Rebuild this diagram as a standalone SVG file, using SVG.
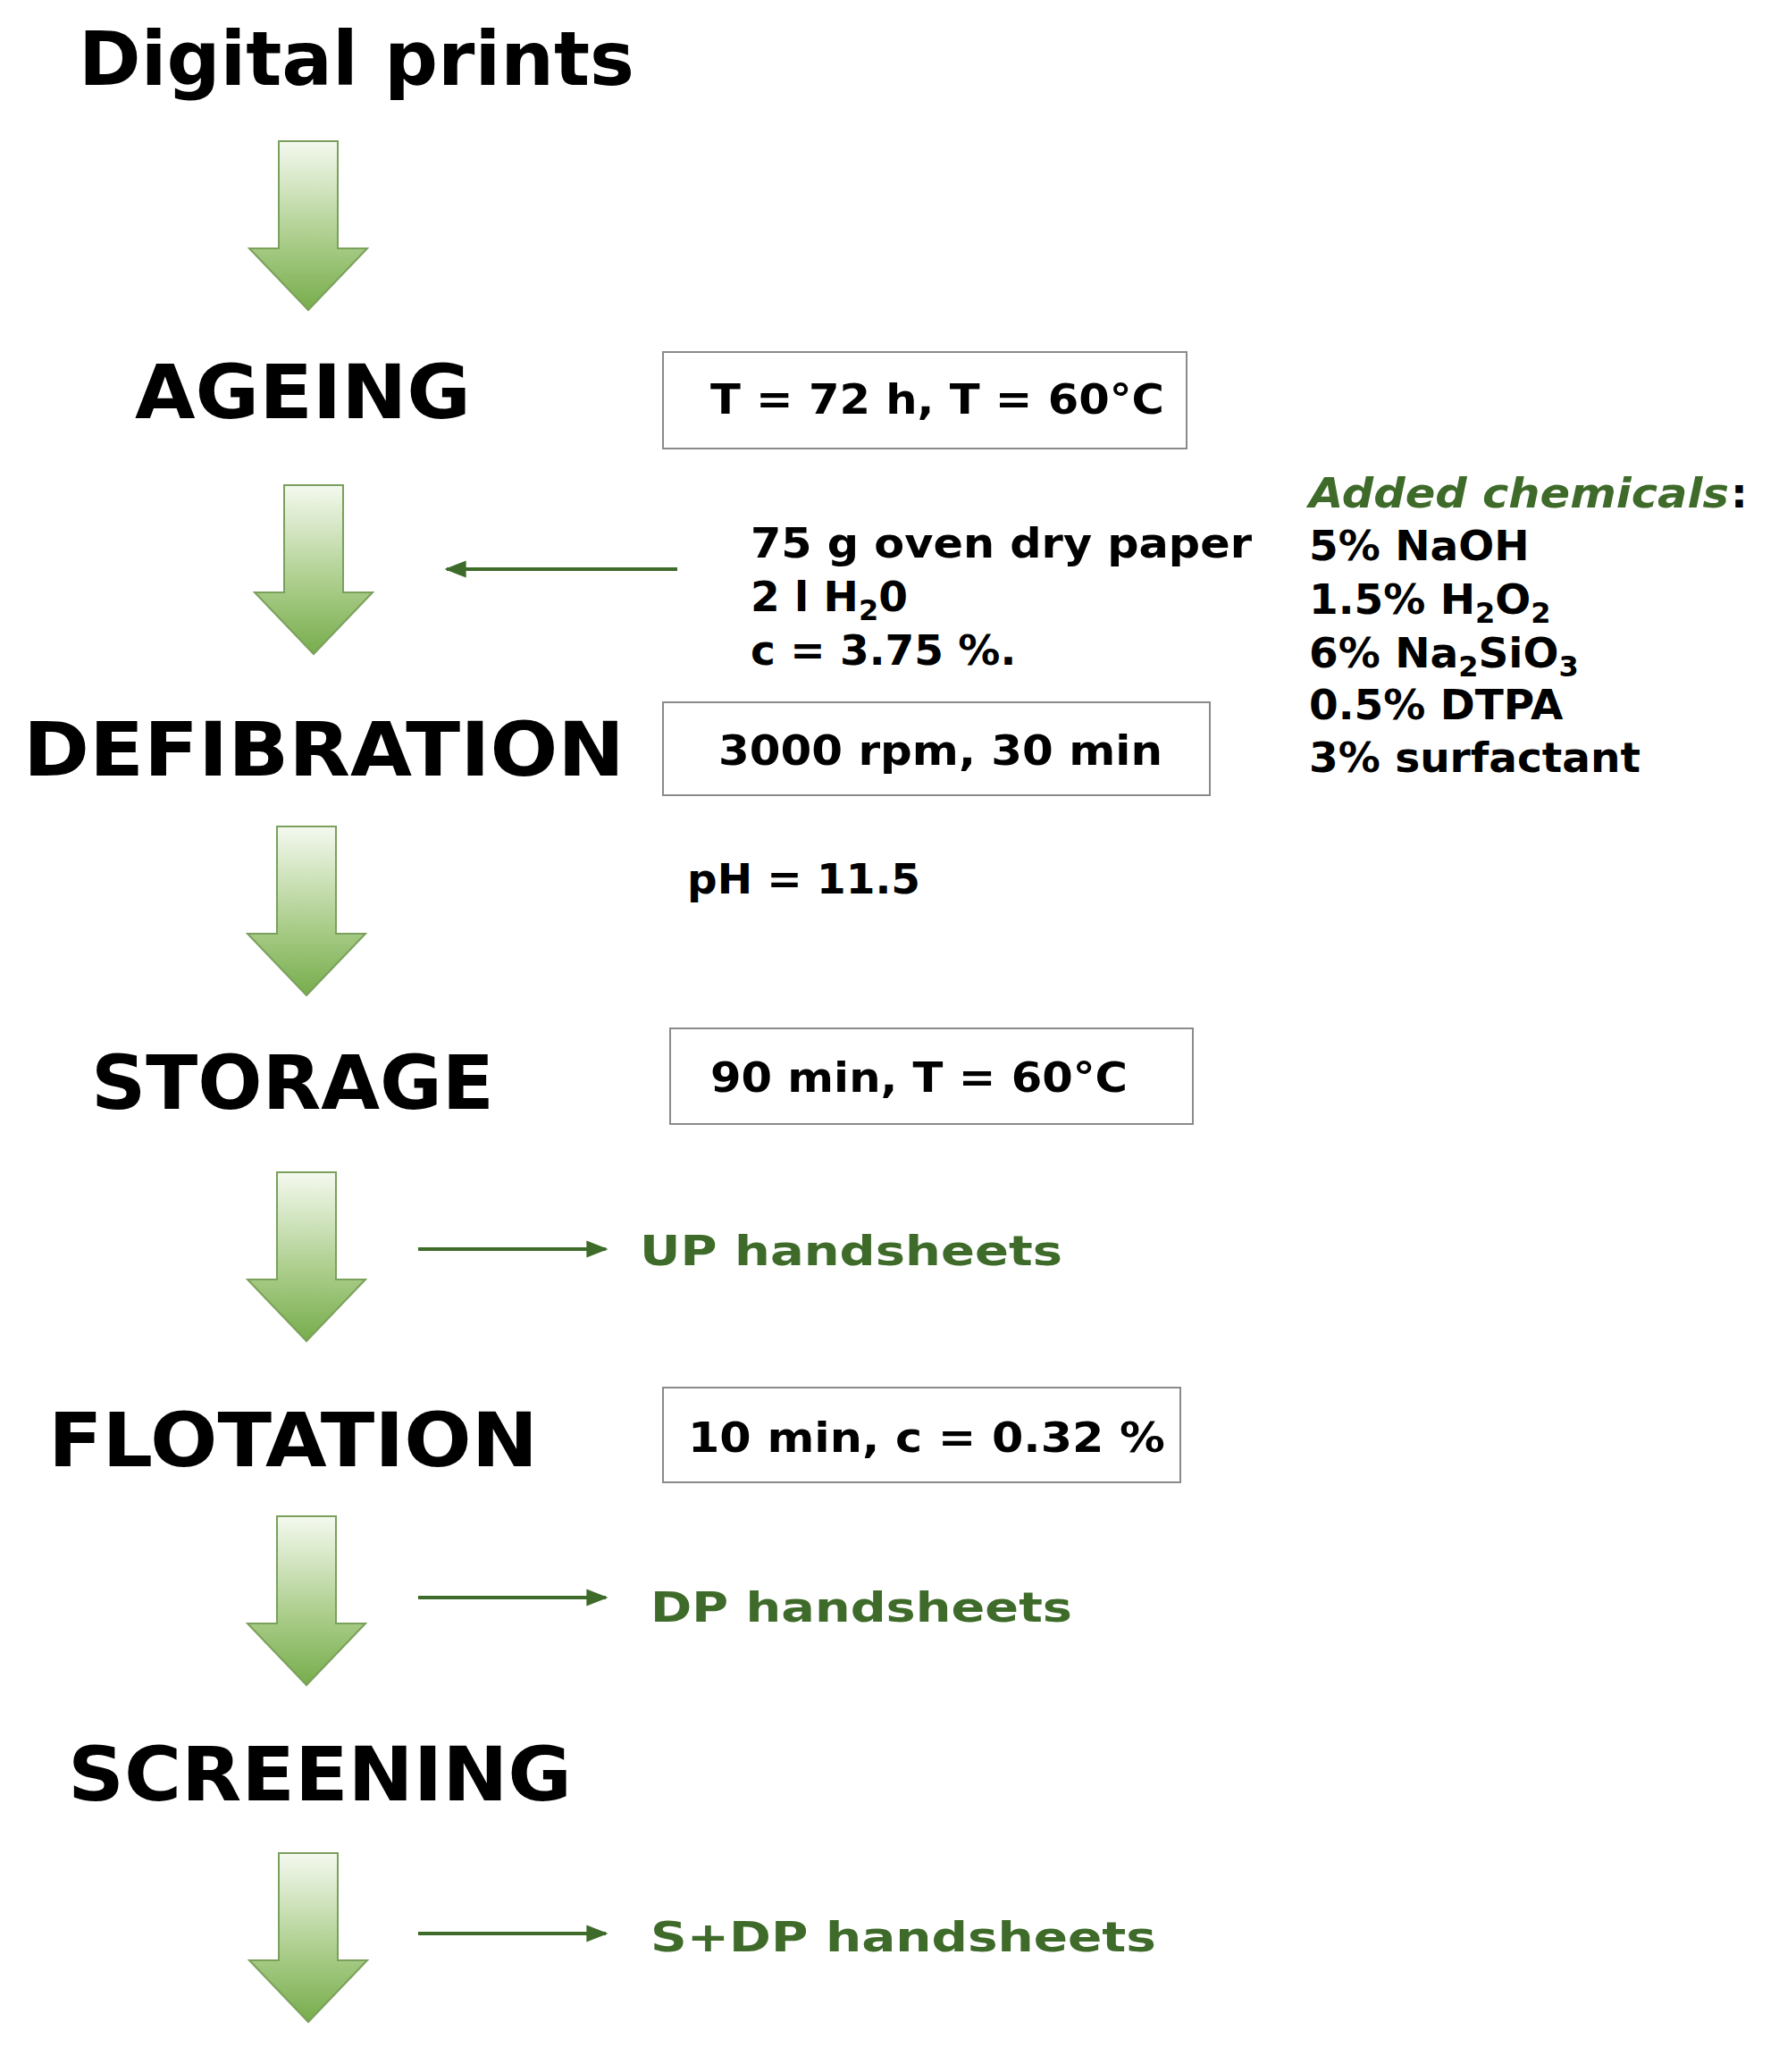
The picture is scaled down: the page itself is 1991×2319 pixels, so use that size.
<svg xmlns="http://www.w3.org/2000/svg" width="1991" height="2319" viewBox="0 0 1991 2319">
<style>
.t{font-family:"DejaVu Sans",Verdana,sans-serif;font-weight:bold;fill:#000}
.big{font-size:84px}
.sm{font-size:47px}
.g{fill:#3e6b2a}
.box{fill:#fff;stroke:#8a8a8a;stroke-width:2}
.ln{stroke:#3e6b2a;stroke-width:4;fill:none}
.ar{fill:url(#gr);stroke:#7aa05c;stroke-width:2}
</style>
<defs>
<linearGradient id="gr" x1="0" y1="0" x2="0" y2="1">
<stop offset="0" stop-color="#f4f9ef"/><stop offset="0.6" stop-color="#a9cc88"/><stop offset="1" stop-color="#77ad4c"/>
</linearGradient>
<marker id="m" viewBox="0 0 10 10" refX="9" refY="5" markerWidth="6" markerHeight="6" orient="auto-start-reverse" markerUnits="strokeWidth"><path d="M0,1 L10,5 L0,9 Z" fill="#3e6b2a"/></marker>
<g id="bigarrow"><path class="ar" d="M-33,0 H33 V120 H66 L0,189 L-66,120 H-33 Z"/></g>
</defs>
<g id="connectors">
<use href="#bigarrow" x="345" y="158"/>
<use href="#bigarrow" x="351" y="543"/>
<use href="#bigarrow" x="343" y="925"/>
<use href="#bigarrow" x="343" y="1312"/>
<use href="#bigarrow" x="343" y="1697"/>
<use href="#bigarrow" x="345" y="2074"/>
<line class="ln" x1="758" y1="637" x2="500" y2="637" marker-end="url(#m)"/>
<line class="ln" x1="468" y1="1398" x2="678" y2="1398" marker-end="url(#m)"/>
<line class="ln" x1="468" y1="1788" x2="678" y2="1788" marker-end="url(#m)"/>
<line class="ln" x1="468" y1="2164" x2="678" y2="2164" marker-end="url(#m)"/>
</g>
<g id="digital"><text class="t big" x="88" y="95" textLength="622" lengthAdjust="spacingAndGlyphs">Digital prints</text></g>
<g id="ageing"><text class="t big" x="151" y="468" textLength="376" lengthAdjust="spacingAndGlyphs">AGEING</text>
<rect class="box" x="742" y="394" width="586" height="108"/>
<text class="t sm" x="795" y="463" textLength="508" lengthAdjust="spacingAndGlyphs">T = 72 h, T = 60°C</text></g>
<g id="inputs">
<text class="t sm" x="840" y="624" textLength="561" lengthAdjust="spacingAndGlyphs">75 g oven dry paper</text>
<text class="t sm" x="840" y="684">2 l H<tspan font-size="32" dy="10">2</tspan><tspan dy="-10">0</tspan></text>
<text class="t sm" x="840" y="744">c = 3.75 %.</text>
</g>
<g id="chemicals">
<text class="t sm g" x="1465" y="568" font-style="italic" textLength="470" lengthAdjust="spacingAndGlyphs">Added chemicals</text><text class="t sm" x="1937" y="568">:</text>
<text class="t sm" x="1465" y="627">5% NaOH</text>
<text class="t sm" x="1465" y="687">1.5% H<tspan font-size="32" dy="10">2</tspan><tspan dy="-10">O</tspan><tspan font-size="32" dy="10">2</tspan></text>
<text class="t sm" x="1465" y="747">6% Na<tspan font-size="32" dy="10">2</tspan><tspan dy="-10">SiO</tspan><tspan font-size="32" dy="10">3</tspan></text>
<text class="t sm" x="1465" y="805">0.5% DTPA</text>
<text class="t sm" x="1465" y="864">3% surfactant</text>
</g>
<g id="defibration"><text class="t big" x="26" y="868" textLength="673" lengthAdjust="spacingAndGlyphs">DEFIBRATION</text>
<rect class="box" x="742" y="786" width="612" height="104"/>
<text class="t sm" x="804" y="856" textLength="497" lengthAdjust="spacingAndGlyphs">3000 rpm, 30 min</text></g>
<g id="ph"><text class="t sm" x="769" y="1000">pH = 11.5</text></g>
<g id="storage"><text class="t big" x="102" y="1241" textLength="451" lengthAdjust="spacingAndGlyphs">STORAGE</text>
<rect class="box" x="750" y="1151" width="585" height="107"/>
<text class="t sm" x="795" y="1222" textLength="467" lengthAdjust="spacingAndGlyphs">90 min, T = 60°C</text></g>
<g id="up"><text class="t sm g" x="716" y="1416" textLength="473" lengthAdjust="spacingAndGlyphs">UP handsheets</text></g>
<g id="flotation"><text class="t big" x="54" y="1641" textLength="548" lengthAdjust="spacingAndGlyphs">FLOTATION</text>
<rect class="box" x="742" y="1553" width="579" height="106"/>
<text class="t sm" x="770" y="1625" textLength="534" lengthAdjust="spacingAndGlyphs">10 min, c = 0.32 %</text></g>
<g id="dp"><text class="t sm g" x="728" y="1815" textLength="472" lengthAdjust="spacingAndGlyphs">DP handsheets</text></g>
<g id="screening"><text class="t big" x="76" y="2015" textLength="564" lengthAdjust="spacingAndGlyphs">SCREENING</text></g>
<g id="sdp"><text class="t sm g" x="728" y="2184" textLength="566" lengthAdjust="spacingAndGlyphs">S+DP handsheets</text></g>
</svg>
